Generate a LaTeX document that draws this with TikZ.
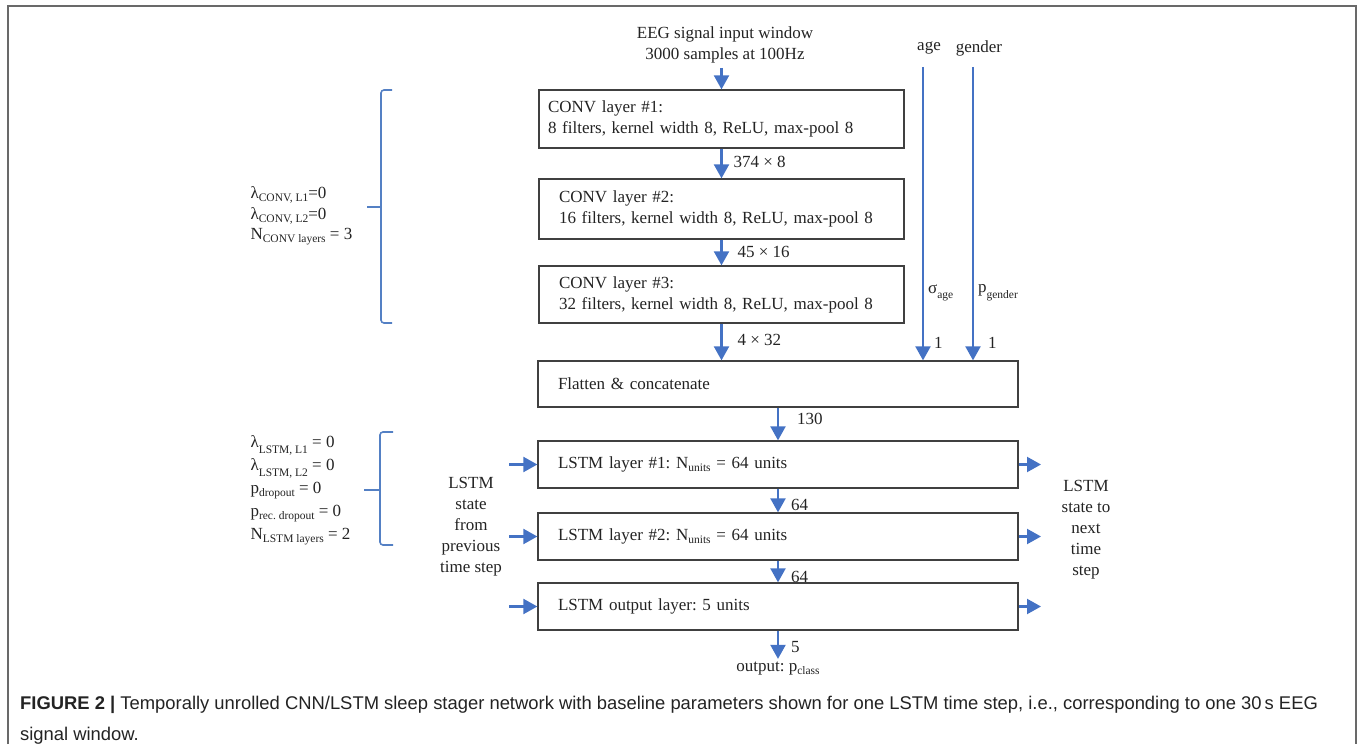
\documentclass[tikz,border=0pt]{standalone}
\usepackage{fontspec}
\setmainfont{Liberation Serif}
\newfontfamily\capfont{Liberation Sans}
\usetikzlibrary{arrows.meta}
\definecolor{arrblue}{RGB}{68,114,196}
\definecolor{brblue}{RGB}{84,128,196}
\definecolor{boxgray}{RGB}{64,64,64}
\definecolor{framegray}{RGB}{105,105,105}
\definecolor{txt}{RGB}{35,35,35}
\newcommand{\lo}[1]{\raisebox{-0.35ex}{\fontsize{11.5}{11.5}\selectfont #1}}
\newcommand{\llo}[1]{\raisebox{-0.75ex}{\fontsize{11.5}{11.5}\selectfont #1}}
\frenchspacing
\begin{document}
\begin{tikzpicture}[x=1pt,y=-1pt,
  every node/.style={font=\fontsize{17}{21}\selectfont, text=txt},
  layerbox/.style={draw=boxgray, line width=1.3pt, align=left, inner ysep=0pt},
  arr/.style={draw=arrblue, line width=2.2pt, -{Triangle[length=14pt,width=15pt]}},
  brk/.style={draw=brblue, line width=1.6pt, rounded corners=3pt},
  lbl/.style={anchor=west, inner sep=0pt},
  captext/.style={font=\capfont\fontsize{18.4}{20}\selectfont, anchor=base west, inner sep=0pt, text=txt}
]
\useasboundingbox (0,0) rectangle (1358,754);
% frame
\draw[framegray, line width=2pt] (8,744) -- (8,6) -- (1356,6) -- (1356,744);

% input
\node[align=center] (in) at (725,45) {EEG signal input window\\3000 samples at 100Hz};
\coordinate (intop) at (721.5,68);

% conv layers
\node[layerbox, minimum height=58pt, text width=347pt, inner xsep=9pt] (conv1) at (721.5,119)
  {CONV layer \#1:\\8 filters, kernel width 8, ReLU, max-pool 8};
\node[layerbox, minimum height=60pt, text width=325pt, inner xsep=20pt] (conv2) at (721.5,209)
  {CONV layer \#2:\\16 filters, kernel width 8, ReLU, max-pool 8};
\node[layerbox, minimum height=57pt, text width=325pt, inner xsep=20pt] (conv3) at (721.5,294.5)
  {CONV layer \#3:\\32 filters, kernel width 8, ReLU, max-pool 8};

% flatten and lstm
\node[layerbox, minimum height=46pt, text width=440pt, inner xsep=20pt] (flat) at (778,384)
  {Flatten \& concatenate};
\node[layerbox, minimum height=47pt, text width=440pt, inner xsep=20pt] (lstm1) at (778,464.5)
  {LSTM layer \#1: N\lo{units} = 64 units};
\node[layerbox, minimum height=47pt, text width=440pt, inner xsep=20pt] (lstm2) at (778,536.5)
  {LSTM layer \#2: N\lo{units} = 64 units};
\node[layerbox, minimum height=47pt, text width=440pt, inner xsep=20pt] (lstmo) at (778,606.5)
  {LSTM output layer: 5 units};
\node (out) at (778,669) {output: p\lo{class}};

% age / gender
\node (age) at (929,48) {age};
\node (gender) at (979,48) {gender};
\coordinate (agetop) at (923,67);
\coordinate (gentop) at (973,67);

% main arrows
\draw[arr] (intop) -- (conv1.north);
\draw[arr] (conv1.south) -- node[lbl, xshift=11pt, yshift=2pt]{374 × 8} (conv2.north);
\draw[arr] (conv2.south) -- node[lbl, xshift=15pt, yshift=1pt]{45 × 16} (conv3.north);
\draw[arr] (conv3.south) -- node[lbl, xshift=15pt, yshift=2pt]{4 × 32} (conv3.south |- flat.north);
\draw[arr] (agetop) -- node[lbl, pos=0.77, xshift=4pt]{σ\llo{age}} node[lbl, pos=0.94, xshift=10pt]{1} (agetop |- flat.north);
\draw[arr] (gentop) -- node[lbl, pos=0.77, xshift=4pt]{p\llo{gender}} node[lbl, pos=0.94, xshift=14pt]{1} (gentop |- flat.north);
\draw[arr] (flat.south) -- node[lbl, xshift=18pt, yshift=5pt]{130} (lstm1.north);
\draw[arr] (lstm1.south) -- node[lbl, xshift=12pt, yshift=-4pt]{64} (lstm2.north);
\draw[arr] (lstm2.south) -- node[lbl, xshift=12pt, yshift=-5pt]{64} (lstmo.north);
\draw[arr] (lstmo.south) -- node[lbl, xshift=12pt, yshift=-2pt]{5} (out.north);

% recurrent state arrows
\coordinate (i1) at (509,464.5);
\coordinate (i2) at (509,536.5);
\coordinate (i3) at (509,606.5);
\coordinate (o1) at (1041,464.5);
\coordinate (o2) at (1041,536.5);
\coordinate (o3) at (1041,606.5);
\draw[arr] (i1) -- (lstm1.west);
\draw[arr] (i2) -- (lstm2.west);
\draw[arr] (i3) -- (lstmo.west);
\draw[arr] (lstm1.east) -- (o1);
\draw[arr] (lstm2.east) -- (o2);
\draw[arr] (lstmo.east) -- (o3);

\node[align=center] (prev) at (471,527) {LSTM\\state\\from\\previous\\time step};
\node[align=center] (next) at (1086,530) {LSTM\\state to\\next\\time\\step};

% parameter labels
\node[align=left, anchor=west, font=\fontsize{17}{20.5}\selectfont] (convpar) at (247,216)
  {λ\lo{CONV, L1}=0\\λ\lo{CONV, L2}=0\\N\lo{CONV layers} = 3};
\node[align=left, anchor=west, font=\fontsize{17}{23}\selectfont] (lstmpar) at (247,490)
  {λ\llo{LSTM, L1} = 0\\λ\llo{LSTM, L2} = 0\\p\lo{dropout} = 0\\p\lo{rec. dropout} = 0\\N\lo{LSTM layers} = 2};

% brackets
\draw[brk] (392,90) -- (381,90) -- (381,323) -- (392,323);
\draw[brblue, line width=1.6pt] (381,207) -- (367,207);
\draw[brk] (393,432) -- (380,432) -- (380,545) -- (393,545);
\draw[brblue, line width=1.6pt] (380,490) -- (364,490);

% caption
\node[captext] (cap1) at (20,709) {\textbf{FIGURE 2 |} Temporally unrolled CNN/LSTM sleep stager network with baseline parameters shown for one LSTM time step, i.e., corresponding to one 30\,s EEG};
\node[captext] (cap2) at (20,740) {signal window.};
\end{tikzpicture}
\end{document}
